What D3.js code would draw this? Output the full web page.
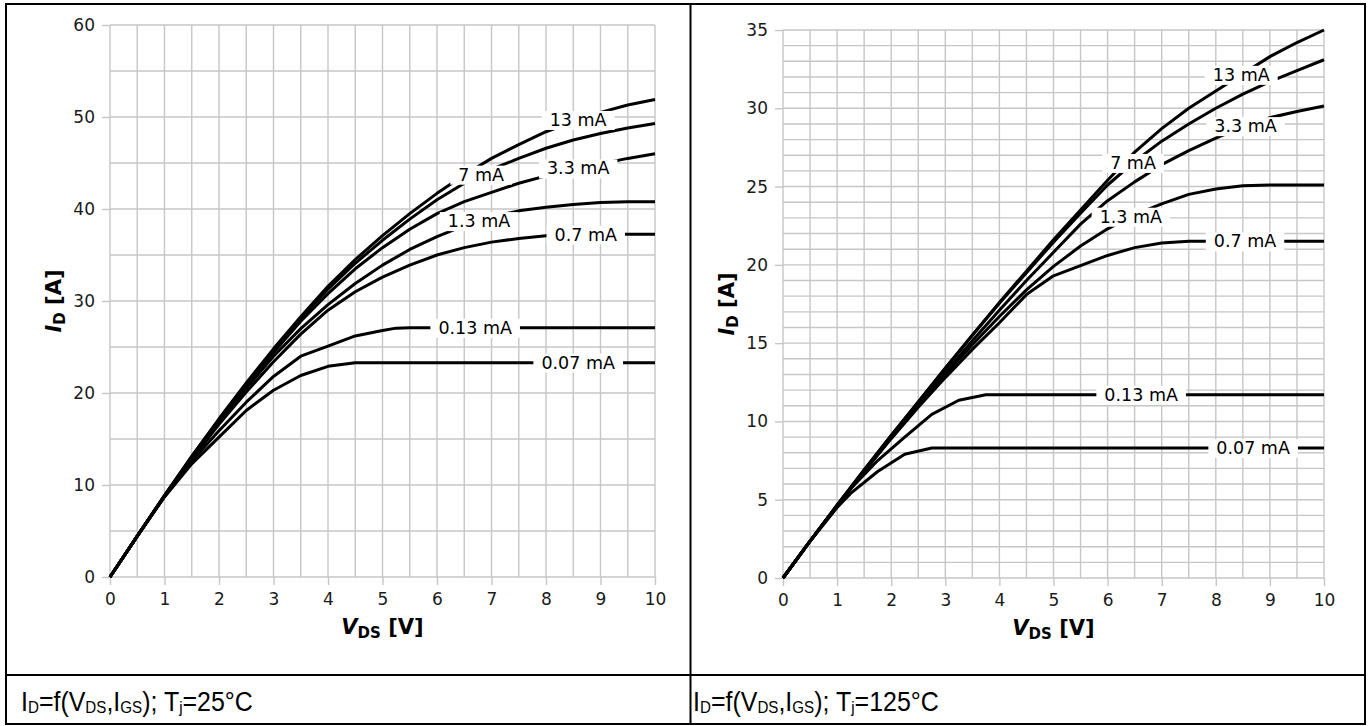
<!DOCTYPE html>
<html><head><meta charset="utf-8">
<script src="https://cdn.jsdelivr.net/npm/d3@7"></script>
<style>body{margin:0;background:#fff}svg{display:block}</style>
</head><body>
<svg id="c" width="1370" height="726"></svg>
<script>
// ---------- data ----------
const vSteps = [0,0.5,1,1.5,2,2.5,3,3.5,4,4.5,5,5.5,6,6.5,7,7.5,8,8.5,9,9.5,10];

// Tj = 25 °C
const id25_13mA  = [0,4.45,8.85,13.1,17.2,21.1,24.8,28.3,31.6,34.5,37.1,39.5,41.7,43.7,45.5,47.0,48.4,49.5,50.5,51.3,51.9];
const id25_7mA   = [0,4.45,8.85,13.1,17.1,21.0,24.7,28.1,31.3,34.1,36.6,38.9,41.0,42.8,44.3,45.5,46.6,47.5,48.2,48.8,49.3];
const id25_3p3mA = [0,4.45,8.85,13.0,17.0,20.8,24.4,27.8,30.8,33.5,35.8,37.8,39.5,40.8,41.8,42.8,43.6,44.3,44.9,45.5,46.0];
const id25_1p3mA = [0,4.45,8.8,12.9,16.8,20.5,24.0,27.0,29.6,31.9,33.9,35.6,37.0,38.2,39.1,39.8,40.2,40.5,40.7,40.8,40.8];
const id25_0p7mA = [0,4.45,8.8,12.8,16.6,20.1,23.4,26.4,29.0,31.0,32.6,33.9,35.0,35.8,36.4,36.8,37.1,37.2,37.25,37.25,37.25];
const v25_0p13mA  = [0,0.5,1,1.5,2,2.5,3,3.5,4,4.5,5,5.25,5.5,10];
const id25_0p13mA = [0,4.45,8.75,12.6,15.9,19.0,21.8,24.0,25.1,26.2,26.8,27.05,27.1,27.1];
const v25_0p07mA  = [0,0.5,1,1.5,2,2.5,3,3.5,4,4.5,10];
const id25_0p07mA = [0,4.45,8.7,12.3,15.2,18.1,20.3,21.9,22.9,23.3,23.3];

// Tj = 125 °C
const id125_13mA  = [0,2.35,4.65,6.9,9.1,11.25,13.4,15.5,17.6,19.6,21.6,23.5,25.4,27.2,28.7,30.0,31.1,32.2,33.3,34.2,35.0];
const id125_7mA   = [0,2.35,4.65,6.9,9.1,11.25,13.4,15.5,17.55,19.5,21.45,23.3,25.1,26.6,27.9,29.0,30.0,30.9,31.7,32.4,33.1];
const id125_3p3mA = [0,2.35,4.65,6.85,9.0,11.1,13.15,15.15,17.1,19.0,20.8,22.6,24.1,25.3,26.4,27.3,28.1,28.8,29.4,29.8,30.15];
const id125_1p3mA = [0,2.35,4.6,6.8,8.95,11.0,13.0,14.9,16.7,18.4,19.9,21.2,22.3,23.2,23.9,24.5,24.85,25.05,25.1,25.1,25.1];
const id125_0p7mA = [0,2.35,4.6,6.8,8.9,10.9,12.8,14.6,16.3,18.1,19.3,19.95,20.6,21.1,21.4,21.5,21.5,21.5,21.5,21.5,21.5];
const v125_0p13mA  = [0,0.5,1,1.25,1.75,2.25,2.75,3.25,3.75,10];
const id125_0p13mA = [0,2.35,4.6,5.7,7.5,9.0,10.45,11.35,11.7,11.7];
const v125_0p07mA  = [0,0.5,1,1.25,1.75,2.25,2.75,10];
const id125_0p07mA = [0,2.35,4.5,5.4,6.8,7.9,8.3,8.3];

// curve labels (gate current) and where along V_DS they sit
const curveNames = ["13 mA","7 mA","3.3 mA","1.3 mA","0.7 mA","0.13 mA","0.07 mA"];
const labelV25  = [8.59,6.81,8.59,6.77,8.73,6.7,8.59];
const labelV125 = [8.47,6.47,8.55,6.43,8.54,6.62,8.69];

// ticks
const xTicks = [0,1,2,3,4,5,6,7,8,9,10];
const yTicks25 = [0,10,20,30,40,50,60];
const yTicks125 = [0,5,10,15,20,25,30,35];

// captions
const caption25 = "25°C";
const caption125 = "125°C";

// ---------- drawing ----------
const svg = d3.select("#c");
const FONT = "'DejaVu Sans', sans-serif";

function interp(xs, ys, v){
  for(let i=1;i<xs.length;i++){
    if(v<=xs[i]){const t=(v-xs[i-1])/(xs[i]-xs[i-1]);return ys[i-1]+t*(ys[i]-ys[i-1]);}
  }
  return ys[ys.length-1];
}

function panel(cfg){
  const x = d3.scaleLinear().domain([0,10]).range(cfg.xr);
  const y = d3.scaleLinear().domain([0,cfg.ymax]).range(cfg.yr);
  const g = svg.append("g");
  // grid
  const grid = g.append("g").attr("stroke","#c6c6c6").attr("stroke-width",1.4);
  d3.range(0,10.001,0.5).forEach(v=>{
    grid.append("line").attr("x1",x(v)).attr("x2",x(v)).attr("y1",y(0)).attr("y2",y(cfg.ymax));
  });
  d3.range(0,cfg.ymax+0.001,cfg.ygrid).forEach(v=>{
    grid.append("line").attr("y1",y(v)).attr("y2",y(v)).attr("x1",x(0)).attr("x2",x(10));
  });
  // axes
  const xa = g.append("g").attr("transform",`translate(0,${y(0)})`)
    .call(d3.axisBottom(x).tickValues(xTicks).tickSize(8).tickSizeOuter(0).tickPadding(8).tickFormat(d3.format("d")));
  const ya = g.append("g").attr("transform",`translate(${x(0)},0)`)
    .call(d3.axisLeft(y).tickValues(cfg.yTicks).tickSize(8).tickSizeOuter(0).tickPadding(7).tickFormat(d3.format("d")));
  [xa,ya].forEach(a=>{
    a.select(".domain").remove();
    a.selectAll(".tick line").attr("stroke","#c6c6c6").attr("stroke-width",1.4);
    a.selectAll(".tick text").attr("font-family",FONT).attr("font-size",17).attr("fill","#1a1a1a");
  });
  // curves
  const line = d3.line().x(d=>x(d[0])).y(d=>y(d[1]));
  cfg.series.forEach(s=>{
    g.append("path").datum(s.v.map((v,i)=>[v,s.i[i]]))
      .attr("d",line).attr("fill","none").attr("stroke","#000")
      .attr("stroke-width",3).attr("stroke-linejoin","round");
  });
  // inline labels
  cfg.series.forEach((s,k)=>{
    const lv = cfg.labelV[k];
    const lg = g.append("g");
    const t = lg.append("text").attr("x",x(lv)).attr("y",y(interp(s.v,s.i,lv)))
      .attr("text-anchor","middle").attr("dominant-baseline","central")
      .attr("font-family",FONT).attr("font-size",17.5).attr("fill","#000").text(curveNames[k]);
    const b = t.node().getBBox();
    lg.insert("rect","text").attr("x",b.x-8).attr("y",b.y+1).attr("width",b.width+16).attr("height",b.height-1).attr("fill","#fff");
  });
  // axis titles
  const xt = g.append("text").attr("x",(cfg.xr[0]+cfg.xr[1])/2).attr("y",cfg.yr[0]+57)
    .attr("text-anchor","middle").attr("font-family",FONT).attr("font-weight","bold").attr("font-size",21);
  xt.append("tspan").attr("font-style","italic").text("V");
  xt.append("tspan").attr("font-size",15).attr("dy",4).text("DS");
  xt.append("tspan").attr("dy",-4).text(" [V]");
  const cy = (cfg.yr[0]+cfg.yr[1])/2;
  const yt = g.append("text").attr("transform",`translate(${cfg.xr[0]-49},${cy}) rotate(-90)`)
    .attr("text-anchor","middle").attr("font-family",FONT).attr("font-weight","bold").attr("font-size",21);
  yt.append("tspan").attr("font-style","italic").text("I");
  yt.append("tspan").attr("font-size",15).attr("dy",4).text("D");
  yt.append("tspan").attr("dy",-4).text(" [A]");
}

panel({xr:[110,655], yr:[577,25], ymax:60, ygrid:5, yTicks:yTicks25, labelV:labelV25,
  series:[
    {v:vSteps,i:id25_13mA},{v:vSteps,i:id25_7mA},{v:vSteps,i:id25_3p3mA},
    {v:vSteps,i:id25_1p3mA},{v:vSteps,i:id25_0p7mA},
    {v:v25_0p13mA,i:id25_0p13mA},{v:v25_0p07mA,i:id25_0p07mA}]});
panel({xr:[783,1324], yr:[578,30], ymax:35, ygrid:1, yTicks:yTicks125, labelV:labelV125,
  series:[
    {v:vSteps,i:id125_13mA},{v:vSteps,i:id125_7mA},{v:vSteps,i:id125_3p3mA},
    {v:vSteps,i:id125_1p3mA},{v:vSteps,i:id125_0p7mA},
    {v:v125_0p13mA,i:id125_0p13mA},{v:v125_0p07mA,i:id125_0p07mA}]});

// table frame
const fr = svg.append("g").attr("stroke","#000").attr("stroke-width",2).attr("fill","none");
fr.append("rect").attr("x",6).attr("y",4).attr("width",1359).attr("height",720);
fr.append("line").attr("x1",690.5).attr("x2",690.5).attr("y1",4).attr("y2",724);
fr.append("line").attr("x1",6).attr("x2",1365).attr("y1",675).attr("y2",675);

// captions (condensed horizontally with a transform, not textLength)
function caption(x0, temp, len){
  const g = svg.append("g");
  const t = g.append("text").attr("x",0).attr("y",0)
    .attr("font-family","'Liberation Sans Narrow','Liberation Sans',sans-serif").attr("font-size",28).attr("fill","#000");
  const sub = (s)=>{t.append("tspan").attr("font-size",17).attr("dy",2).text(s);};
  const norm = (s)=>{t.append("tspan").attr("dy",-2).text(s);};
  t.append("tspan").text("I");
  sub("D"); norm("=f(V"); sub("DS"); norm(",I"); sub("GS"); norm("); T"); sub("j"); norm("="+temp);
  const w = t.node().getComputedTextLength();
  g.attr("transform",`translate(${x0},711) scale(${len/w},1)`);
}
caption(21, caption25, 232);
caption(693, caption125, 246);
</script>
</body></html>
